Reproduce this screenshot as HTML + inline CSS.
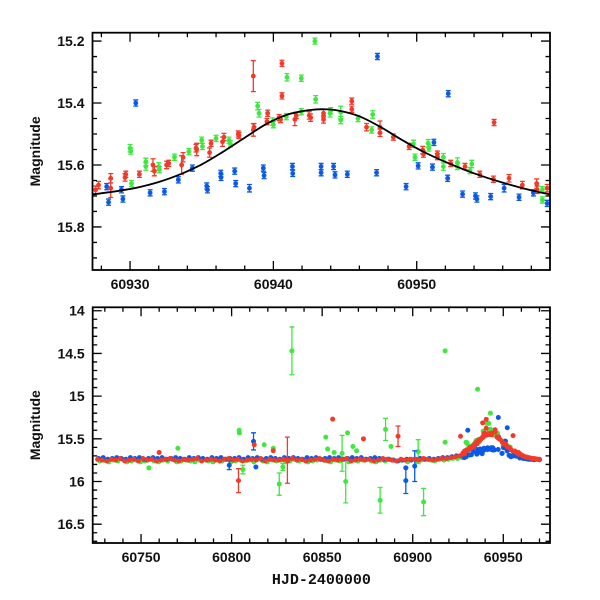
<!DOCTYPE html>
<html><head><meta charset="utf-8"><style>
html,body{margin:0;padding:0;background:#fff;}
svg{display:block;font-family:"Liberation Sans",sans-serif;}
.tl{font-size:14px;font-weight:bold;fill:#111;}
</style></head><body>
<svg id="chart" width="600" height="600" viewBox="0 0 600 600" xmlns="http://www.w3.org/2000/svg"></svg>
<script>
// ---- Top panel data: [time, magnitude, error]
const topRed = [[60927.6,15.68,.012],[60927.8,15.665,.012],[60928.65,15.643,.015],[60928.65,15.675,.03],[60929.65,15.64,.012],[60929.7,15.63,.01],[60930.65,15.63,.01],[60931.6,15.60,.02],[60931.7,15.62,.015],[60932.55,15.60,.012],[60932.7,15.595,.01],[60933.6,15.60,.03],[60933.7,15.575,.015],[60934.6,15.546,.012],[60934.65,15.55,.02],[60935.55,15.56,.015],[60935.65,15.53,.01],[60936.45,15.525,.015],[60936.55,15.51,.012],[60937.55,15.50,.01],[60937.6,15.505,.01],[60938.6,15.313,.05],[60938.6,15.487,.02],[60938.65,15.478,.012],[60939.55,15.46,.01],[60939.6,15.433,.01],[60940.4,15.447,.01],[60940.5,15.453,.01],[60940.6,15.272,.01],[60940.6,15.377,.01],[60941.5,15.453,.02],[60941.6,15.44,.01],[60942.5,15.44,.012],[60942.6,15.447,.012],[60943.5,15.433,.012],[60943.5,15.453,.012],[60945.47,15.394,.01],[60945.47,15.42,.01],[60946.5,15.478,.012],[60947.44,15.478,.02],[60947.44,15.496,.012],[60948.37,15.51,.01],[60949.47,15.54,.01],[60950.42,15.552,.012],[60950.47,15.565,.01],[60951.44,15.565,.01],[60951.44,15.573,.01],[60952.37,15.595,.01],[60953.37,15.605,.01],[60954.4,15.63,.01],[60955.35,15.646,.01],[60955.4,15.463,.01],[60956.44,15.643,.012],[60957.37,15.665,.012],[60958.37,15.66,.015],[60958.4,15.68,.012],[60959.1,15.675,.012]];
const topGreen = [[60930,15.546,.012],[60930.05,15.555,.01],[60930.1,15.66,.01],[60931.1,15.59,.012],[60931.1,15.605,.012],[60932,15.605,.012],[60932.05,15.615,.01],[60933.1,15.575,.01],[60934.1,15.557,.01],[60935,15.52,.01],[60935.05,15.54,.01],[60936,15.514,.01],[60936.9,15.52,.01],[60937,15.532,.01],[60938.9,15.41,.012],[60939,15.433,.012],[60939.95,15.46,.012],[60940,15.47,.01],[60940.9,15.444,.01],[60940.95,15.317,.012],[60941.95,15.32,.01],[60941.95,15.428,.01],[60942.9,15.2,.01],[60942.95,15.388,.012],[60943.95,15.433,.012],[60944,15.425,.01],[60944.7,15.455,.012],[60944.7,15.43,.02],[60945.9,15.45,.01],[60946.86,15.487,.01],[60946.93,15.437,.012],[60949.77,15.532,.012],[60949.88,15.575,.01],[60950.8,15.53,.012],[60950.85,15.545,.01],[60951.86,15.575,.012],[60951.86,15.605,.012],[60952.84,15.592,.015],[60952.84,15.605,.01],[60953.72,15.618,.01],[60953.84,15.597,.012],[60958.77,15.68,.01],[60958.77,15.713,.01]];
const topBlue = [[60928.37,15.67,.01],[60928.5,15.72,.01],[60929.4,15.68,.01],[60929.5,15.71,.01],[60930.4,15.40,.01],[60931.4,15.69,.01],[60932.4,15.686,.01],[60933.37,15.648,.01],[60934.35,15.61,.01],[60935.35,15.668,.01],[60935.4,15.68,.01],[60936.33,15.627,.01],[60936.35,15.64,.01],[60937.3,15.62,.01],[60937.37,15.66,.01],[60938.33,15.675,.012],[60939.3,15.61,.01],[60939.35,15.634,.01],[60941.33,15.605,.01],[60941.35,15.627,.01],[60943.33,15.605,.01],[60943.33,15.625,.01],[60944.2,15.605,.01],[60944.3,15.632,.01],[60945.16,15.63,.01],[60947.26,15.25,.01],[60947.2,15.625,.01],[60949.26,15.67,.01],[60950.1,15.603,.01],[60951.1,15.607,.01],[60951.2,15.527,.01],[60952.2,15.37,.01],[60952.16,15.643,.01],[60953.2,15.694,.01],[60954.1,15.70,.01],[60954.2,15.71,.01],[60955.16,15.702,.01],[60956.1,15.675,.012],[60957.14,15.704,.01],[60958.14,15.69,.01],[60959.1,15.724,.01]];
// model curve samples
const modelT = [60927.4,60929,60930.5,60932,60933.5,60935,60936.5,60938,60939.5,60941,60942.5,60943.5,60944.5,60946,60947.5,60949,60950.5,60952,60954,60956,60958,60959.3];
const modelM = [15.695,15.685,15.673,15.655,15.630,15.598,15.557,15.512,15.468,15.437,15.423,15.420,15.424,15.443,15.478,15.520,15.558,15.590,15.627,15.657,15.682,15.695];
// ---- Bottom panel baseline (every 2.5 d from start) in hundredths above 15
const baseStart = 60726;
const redBase = [74,75,76,74,75,73,76,75,74,76,73,75,74,76,75,74,73,75,76,74,75,74,73,76,75,74,75,76,74,73,75,74,76,75,74,75,73,76,74,75,75,74,76,73,75,74,76,75,74,73,75,76,74,75,74,73,76,75,74,75,74,76,75,73,74,75,76,74,75,74,74,75,73,74,75,74,73,73,72,71,70];
const blueBase = [73,72,74,73,72,73,74,72,73,72,74,73,72,73,72,74,73,72,73,74,72,73,72,73,74,72,73,72,74,73,73,72,74,72,73,72,74,73,72,73,74,72,73,72,73,74,72,73,72,74,73,72,73,72,74,73,72,73,72,74,73,72,73,74,74,75,76,75,74,75,74,73,74,73,74,73,72,72,71,70,70];
const greenBase = [76,75,77,75,76,74,77,76,75,77,76,74,76,77,75,76,74,77,76,75,76,77,75,74,76,77,75,76,74,77,76,75,76,75,77,74,76,77,75,76,75,77,76,74,76,75,77,76,75,74,76,77,75,76,74,77,75,76,75,74,76,77,75,76,74,75,76,75,77,74,76,75,74,75,76,74,75,74,73,73,72];
const redTail = [[60960,15.69],[60961,15.70],[60962,15.71],[60963,15.715],[60964,15.72],[60965,15.725],[60966,15.73],[60967,15.73],[60968,15.735],[60969,15.74],[60970,15.74]];
const blueTail = [[60960,15.72],[60961,15.73],[60962,15.73],[60963,15.735],[60964,15.74],[60965,15.74],[60966,15.74],[60967,15.745],[60968,15.74],[60969,15.74],[60970,15.745]];
const greenOut = [[60833.3,14.47,.28],[60917.9,14.47,0],[60935.8,14.92,0],[60804.2,15.40,0],[60804.3,15.43,0],[60770.3,15.61,0],[60754.3,15.84,0],[60806.2,15.86,.05],[60818,15.57,0],[60823,15.61,0],[60826.3,16.03,.13],[60828.3,15.83,.04],[60852,15.48,0],[60853,15.62,0],[60856.6,15.66,0],[60861,15.67,.21],[60864,15.43,0],[60863,16.0,.25],[60867,15.59,0],[60869,15.64,0],[60882,16.22,.15],[60885,15.39,.13],[60888,15.59,0],[60903,15.65,.14],[60906,16.24,.16],[60917.9,15.54,0],[60929.4,15.54,0]];
const redOut = [[60855.8,15.27,0],[60872.8,15.50,0],[60891.9,15.47,.12],[60803.8,15.99,.14],[60812.5,15.57,0],[60830.8,15.75,.27],[60926.4,15.47,0],[60760,15.66,0],[60823,15.64,0]];
const blueOut = [[60812.1,15.53,.1],[60813.4,15.83,0],[60798.7,15.81,.05],[60896.2,15.84,0],[60896.2,15.99,.15],[60901.1,15.82,.18],[60949.4,15.67,0]];

const colors = {red:'#f23a2a', green:'#3ee83e', blue:'#0a5ae6'};
const NS='http://www.w3.org/2000/svg';
const svg=document.getElementById('chart');
function mk(tag,attrs,parent){const e=document.createElementNS(NS,tag);for(const k in attrs)e.setAttribute(k,attrs[k]);(parent||svg).appendChild(e);return e;}

function makeScale(d0,d1,r0,r1){return v=>r0+(v-d0)*(r1-r0)/(d1-d0);}

function drawPoints(g,pts,x,y,color,r,xmin,xmax,name){
  for(const p of pts){
    if(p[0]<xmin||p[0]>xmax)continue;
    const cx=x(p[0]),cy=y(p[1]);
    if(p[2]){
      const e=Math.abs(y(p[1]+p[2])-cy);
      const l=mk('path',{d:`M${cx},${cy-e}V${cy+e}M${cx-2.5},${cy-e}H${cx+2.5}M${cx-2.5},${cy+e}H${cx+2.5}`,stroke:color,'stroke-width':1.3,fill:'none'},g);
      
      
    }
    const c=mk('circle',{cx:cx,cy:cy,r:r,fill:color},g);
    
    
  }
}

function axes(box,x,y,xr,yr,xMaj,xMin,yMaj,yMin,xLab,yLab,prefix){
  const g=mk('g',{});
  
  
  let d='';
  const eps=1e-6;
  for(let v=Math.ceil(xr[0]/xMin-eps)*xMin;v<=xr[1]+eps;v+=xMin){
    const maj=Math.abs(v/xMaj-Math.round(v/xMaj))<1e-6;const L=maj?9:4.5;const px=x(v);
    d+=`M${px},${box.b}v${-L}M${px},${box.t}v${L}`;
    if(maj){const t=mk('text',{x:px,y:box.b+19,'text-anchor':'middle',class:'tl'},g);t.textContent=xLab(v);
      }
  }
  for(let v=Math.ceil(yr[0]/yMin-eps)*yMin;v<=yr[1]+eps;v+=yMin){
    const maj=Math.abs(v/yMaj-Math.round(v/yMaj))<1e-6;const L=maj?9:4.5;const py=y(v);
    d+=`M${box.l},${py}h${L}M${box.r},${py}h${-L}`;
    if(maj){const t=mk('text',{x:box.l-8,y:py+5,'text-anchor':'end',class:'tl'},g);t.textContent=yLab(v);
      }
  }
  mk('path',{d:d,stroke:'#000','stroke-width':1.3,fill:'none'},g);
  const fr=mk('rect',{x:box.l,y:box.t,width:box.r-box.l,height:box.b-box.t,fill:'none',stroke:'#000','stroke-width':1.8},g);
  
  const yt=mk('text',{x:0,y:0,transform:`translate(40,${(box.t+box.b)/2}) rotate(-90)`,'text-anchor':'middle',class:'tl','font-size':'14'},g);
  yt.textContent='Magnitude';
}

// ---------- Top panel
const tb={l:92.5,r:550,t:32.7,b:270};
const txr=[60927.38,60959.3], tyr=[15.173,15.939];
const tx=makeScale(txr[0],txr[1],tb.l,tb.r), ty=makeScale(tyr[0],tyr[1],tb.t,tb.b);
const defs=mk('defs',{});
const cp=mk('clipPath',{id:'ct'},defs);
mk('rect',{x:tb.l,y:tb.t,width:tb.r-tb.l,height:tb.b-tb.t},cp);
const gt=mk('g',{'clip-path':'url(#ct)'});


drawPoints(gt,topBlue,tx,ty,colors.blue,2.4,0,1e9,'top-blue');
drawPoints(gt,topGreen,tx,ty,colors.green,2.4,0,1e9,'top-green');
drawPoints(gt,topRed,tx,ty,colors.red,2.4,0,1e9,'top-red');
{
 const P=modelT.map((t,i)=>[tx(t),ty(modelM[i])]);
 let d='M'+P[0][0].toFixed(1)+','+P[0][1].toFixed(1);
 for(let i=0;i<P.length-1;i++){
   const p0=P[Math.max(0,i-1)],p1=P[i],p2=P[i+1],p3=P[Math.min(P.length-1,i+2)];
   const c1=[p1[0]+(p2[0]-p0[0])/6,p1[1]+(p2[1]-p0[1])/6];
   const c2=[p2[0]-(p3[0]-p1[0])/6,p2[1]-(p3[1]-p1[1])/6];
   d+=`C${c1[0].toFixed(1)},${c1[1].toFixed(1)} ${c2[0].toFixed(1)},${c2[1].toFixed(1)} ${p2[0].toFixed(1)},${p2[1].toFixed(1)}`;
 }
 const m=mk('path',{d:d,stroke:'#000','stroke-width':1.8,fill:'none','stroke-linejoin':'round'},gt);
 }
axes(tb,tx,ty,txr,tyr,10,2,0.2,0.05,v=>String(Math.round(v)),v=>v.toFixed(1),'top');

// ---------- Bottom panel
const bb={l:92.7,r:550,t:307.3,b:543};
const bxr=[60723.3,60975.8], byr=[13.96,16.72];
const bx=makeScale(bxr[0],bxr[1],bb.l,bb.r), by=makeScale(byr[0],byr[1],bb.t,bb.b);
const gb=mk('g',{});


function base(arr,off){return arr.map((v,i)=>[baseStart+off+i*2.5,15+v/100,0]);}
drawPoints(gb,base(greenBase,1.2),bx,by,colors.green,2.5,0,1e9,'bottom-green');
drawPoints(gb,greenOut,bx,by,colors.green,2.5,0,1e9,'bottom-green');
drawPoints(gb,topGreen.map(p=>[p[0],p[1],0]),bx,by,colors.green,2.5,0,1e9,'bottom-green');
drawPoints(gb,base(blueBase,0.6),bx,by,colors.blue,2.5,0,1e9,'bottom-blue');
drawPoints(gb,blueOut,bx,by,colors.blue,2.5,0,1e9,'bottom-blue');
drawPoints(gb,topBlue.map(p=>[p[0],p[1],0]),bx,by,colors.blue,2.5,0,1e9,'bottom-blue');
drawPoints(gb,blueTail.map(p=>[p[0],p[1],0]),bx,by,colors.blue,2.5,0,1e9,'bottom-blue');
drawPoints(gb,base(redBase,0),bx,by,colors.red,2.5,0,1e9,'bottom-red');
drawPoints(gb,redOut,bx,by,colors.red,2.5,0,1e9,'bottom-red');
drawPoints(gb,topRed.map(p=>[p[0],p[1],0]),bx,by,colors.red,2.5,0,1e9,'bottom-red');
drawPoints(gb,redTail.map(p=>[p[0],p[1],0]),bx,by,colors.red,2.5,0,1e9,'bottom-red');
axes(bb,bx,by,bxr,byr,50,10,0.5,0.1,v=>String(Math.round(v)),v=>(Math.round(v*10)/10).toString(),'bottom');
const xt=mk('text',{x:(bb.l+bb.r)/2,y:584,'text-anchor':'middle','font-family':'"Liberation Mono",monospace','font-size':'15','font-weight':'bold',fill:'#111'});
xt.textContent='HJD-2400000';


</script>
</body></html>
